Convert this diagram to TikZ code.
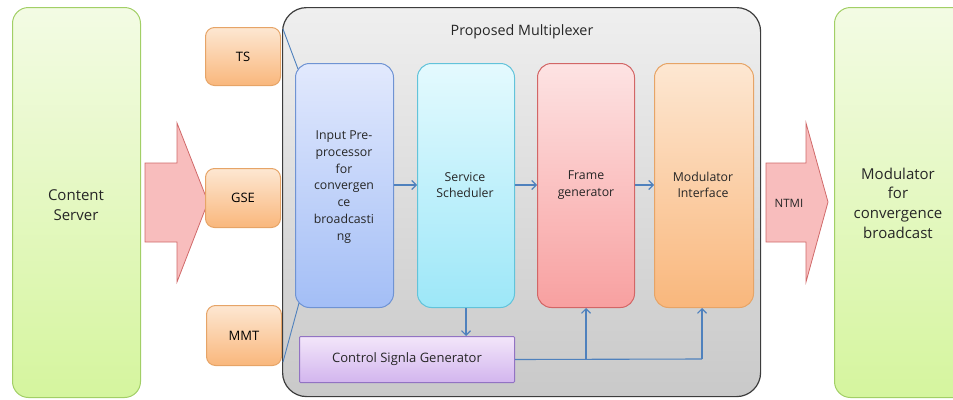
\documentclass[tikz,border=0pt]{standalone}
\usepackage{fontspec}
\setmainfont{Open Sans}
\usetikzlibrary{arrows.meta}
\definecolor{flowblue}{HTML}{4F81BD}
\definecolor{greenedge}{HTML}{A2CF66}
\definecolor{greentop}{HTML}{F3FBE4}
\definecolor{greenbot}{HTML}{D5F59E}
\definecolor{orangeedge}{HTML}{E6A467}
\definecolor{orangetop}{HTML}{FDE7D2}
\definecolor{orangebot}{HTML}{F9B77C}
\definecolor{pinkedge}{HTML}{D06A6A}
\definecolor{pinkfill}{HTML}{F8BDBD}
\definecolor{greyedge}{HTML}{3C3C3C}
\definecolor{greytop}{HTML}{EFEFEF}
\definecolor{greybot}{HTML}{C9C9C9}
\definecolor{blueedge}{HTML}{6F93D3}
\definecolor{bluetop}{HTML}{E2E9FD}
\definecolor{bluebot}{HTML}{A3BEF6}
\definecolor{cyanedge}{HTML}{62C3DA}
\definecolor{cyantop}{HTML}{E4FAFE}
\definecolor{cyanbot}{HTML}{9DE7F8}
\definecolor{rededge}{HTML}{D26666}
\definecolor{redtop}{HTML}{FDE3E3}
\definecolor{redbot}{HTML}{F8A0A0}
\definecolor{purpleedge}{HTML}{9273C3}
\definecolor{purpletop}{HTML}{F3E6FA}
\definecolor{purplebot}{HTML}{D2B5EE}
\tikzset{
  px/.style={x=1pt,y=-1pt},
  box/.style={rectangle,rounded corners=#1,line width=1pt,inner sep=0pt,
    align=center,anchor=north west},
  box/.default=12pt,
  greenbox/.style={box=16pt,draw=greenedge,top color=greentop,bottom color=greenbot},
  orangebox/.style={box=9pt,draw=orangeedge,top color=orangetop,bottom color=orangebot},
  bluebox/.style={box=14pt,draw=blueedge,top color=bluetop,bottom color=bluebot},
  cyanbox/.style={box=14pt,draw=cyanedge,top color=cyantop,bottom color=cyanbot},
  redbox/.style={box=14pt,draw=rededge,top color=redtop,bottom color=redbot},
  modbox/.style={box=14pt,draw=orangeedge,top color=orangetop,bottom color=orangebot},
  purplebox/.style={box=1pt,draw=purpleedge,top color=purpletop,bottom color=purplebot},
  blockarrow/.style={draw=pinkedge,fill=pinkfill,line width=0.8pt,line join=miter},
  flow/.style={draw=flowblue,line width=1.1pt,-{Straight Barb[length=4.5pt,width=9pt,line width=1.1pt]}},
  link/.style={draw=flowblue,line width=1.1pt},
  inner/.style={align=center,font=\fontsize{12.3}{16.7}\selectfont,text=black!85},
  big/.style={align=center,font=\fontsize{15}{19.6}\selectfont,text=black!85},
}
\begin{document}
\begin{tikzpicture}[px]
\useasboundingbox (0,0) rectangle (953,399);

% source and sink
\node[greenbox,minimum width=128pt,minimum height=390pt] (server) at (12,7) {};
\node[big] (servertext) at (76,205) {Content\\Server};
\node[greenbox,minimum width=135pt,minimum height=390pt] (modulator) at (834,7) {};
\node[big] (modtext) at (898,203) {Modulator\\for\\convergence\\broadcast};

% input block arrow
\draw[blockarrow] (145,163) -- (177,163) -- (177,123) -- (208,202) -- (177,282)
  -- (177,242) -- (145,242) -- cycle;

% stream type boxes
\node[orangebox,minimum width=75pt,minimum height=58pt,font=\fontsize{13}{16}\selectfont] (ts) at (205,27) {TS};
\node[orangebox,minimum width=75pt,minimum height=59pt,font=\fontsize{13}{16}\selectfont] (gse) at (205,168) {GSE};
\node[orangebox,minimum width=75pt,minimum height=60pt,font=\fontsize{13}{16}\selectfont] (mmt) at (206,305) {MMT};

% multiplexer frame
\node[box=24pt,draw=greyedge,line width=1.2pt,top color=greytop,bottom color=greybot,
  minimum width=478pt,minimum height=389pt] (mux) at (282,7) {};
\node[font=\fontsize{14.3}{18}\selectfont,text=black!85] (title) at (522,32) {Proposed Multiplexer};

% internal stages
\node[bluebox,minimum width=98pt,minimum height=244pt] (input) at (295,63) {};
\node[cyanbox,minimum width=97pt,minimum height=244pt] (sched) at (417,63) {};
\node[redbox,minimum width=97pt,minimum height=244pt] (frame) at (537,63) {};
\node[modbox,minimum width=99pt,minimum height=244pt] (modif) at (654,63) {};
\node[purplebox,minimum width=215pt,minimum height=46pt] (ctrl) at (299,336) {};

% callout lines from the stream boxes to the pre-processor
\coordinate (ts corner) at (283,29);
\coordinate (mmt corner) at (283,362);
\coordinate (input top) at (298,69);
\coordinate (input bottom) at (299,303);
\draw[link,line width=0.9pt] (ts corner) -- (input top);
\draw[link,line width=0.9pt] (mmt corner) -- (input bottom);

\node[inner] (inputtext) at (344,187) {Input Pre-\\processor\\for\\convergen\\ce\\broadcasti\\ng};
\node[inner] (schedtext) at (465,185) {Service\\Scheduler};
\node[inner] (frametext) at (586,185) {Frame\\generator};
\node[inner] (modiftext) at (703,185) {Modulator\\Interface};
\node[inner,font=\fontsize{13}{16}\selectfont] (ctrltext) at (ctrl.center) {Control Signla Generator};

% data path
\draw[flow] (input.east |- 0,185) -- (sched.west |- 0,185);
\draw[flow] (sched.east |- 0,185) -- (frame.west |- 0,185);
\draw[flow] (frame.east |- 0,185) -- (modif.west |- 0,185);
\draw[flow] (sched.south) -- (sched.south |- ctrl.north);

% control distribution
\coordinate (ctrl out) at (ctrl.east);
\coordinate (tap frame) at (586,359);
\coordinate (tap mod) at (702,359);
\draw[link] (ctrl out) -- (tap mod);
\draw[flow] (tap frame) -- (tap frame |- frame.south);
\draw[flow] (tap mod) -- (tap mod |- modif.south);

% output block arrow
\draw[blockarrow] (766,163) -- (806,163) -- (806,123) -- (828,202) -- (806,282)
  -- (806,242) -- (766,242) -- cycle;
\node[font=\fontsize{11.5}{14}\selectfont,text=black!85] (ntmi) at (789,203) {NTMI};
\end{tikzpicture}
\end{document}
